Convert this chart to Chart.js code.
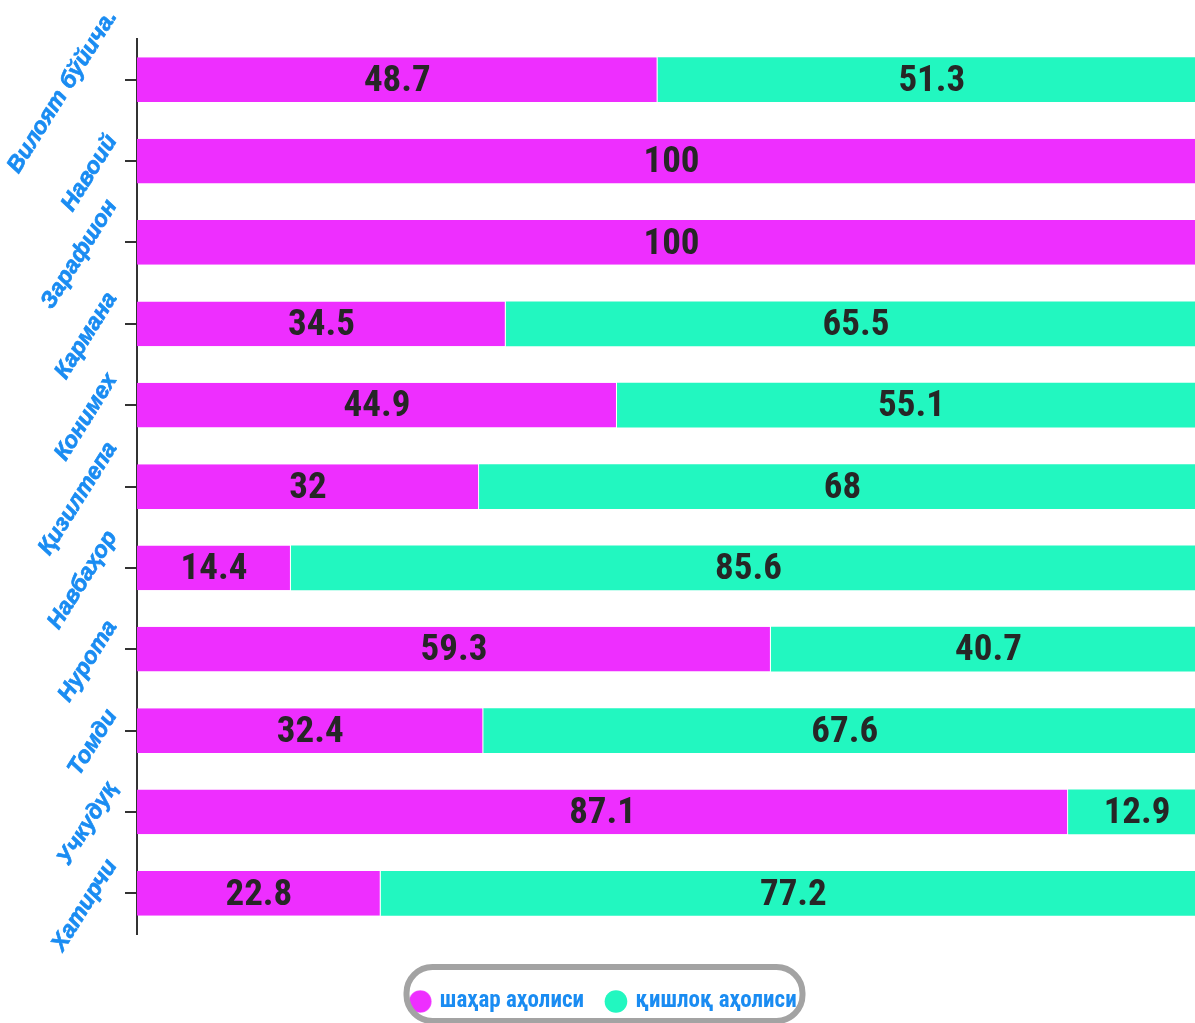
<!DOCTYPE html>
<html>
<head>
<meta charset="utf-8">
<script src="https://cdn.jsdelivr.net/npm/chart.js@4.4.0/dist/chart.umd.min.js"></script>
<style>
  html, body { margin: 0; padding: 0; background: #fff; overflow: hidden; }
  #clip { width: 1195px; height: 1023px; overflow: hidden; }
  /* plot runs a little past the right edge, as in the original */
  #wrap { width: 1206px; height: 1023px; position: relative; }
</style>
</head>
<body>
<div id="clip"><div id="wrap"><canvas id="chart"></canvas></div></div>
<script>
// districts of Navoiy region, urban vs rural population share (%)
const DISTRICTS = ["Вилоят бўйича.", "Навоий", "Зарафшон", "Кармана", "Конимех", "Қизилтепа",
                   "Навбаҳор", "Нурота", "Томди", "Учкудуқ", "Хатирчи"];
const URBAN = [48.7, 100, 100, 34.5, 44.9, 32, 14.4, 59.3, 32.4, 87.1, 22.8];
const RURAL = [51.3, 0, 0, 65.5, 55.1, 68, 85.6, 40.7, 67.6, 12.9, 77.2];
const SERIES_NAMES = ["шаҳар аҳолиси", "қишлоқ аҳолиси"];

const COL_URBAN = "#ee2eff";
const COL_RURAL = "#22f7c0";
const COL_LABEL = "#1a8cf2";

// value in the middle of each bar segment
const barValues = {
  id: "barValues",
  afterDatasetsDraw(chart) {
    const ctx = chart.ctx;
    ctx.save();
    ctx.font = "bold 37px 'Roboto Condensed', 'DejaVu Sans Condensed'";
    ctx.fillStyle = "#262626";
    ctx.textAlign = "center";
    ctx.textBaseline = "middle";
    chart.data.datasets.forEach((ds, di) => {
      chart.getDatasetMeta(di).data.forEach((bar, i) => {
        const v = ds.data[i];
        if (!v) return;
        const { x, base, y } = bar.getProps(["x", "base", "y"], true);
        ctx.fillText(String(v), (x + base) / 2, y + 2);
      });
    });
    ctx.restore();
  }
};

// slanted category labels: right edge lined up, centred a bit below the tick
const slantLabels = {
  id: "slantLabels",
  afterDraw(chart) {
    const ctx = chart.ctx;
    const sc = chart.scales.y;
    const ang = 58 * Math.PI / 180;
    ctx.save();
    ctx.font = "italic bold 23px Arial, 'Liberation Sans'";
    ctx.fillStyle = COL_LABEL;
    ctx.strokeStyle = COL_LABEL;
    ctx.lineWidth = 0.7;
    ctx.textAlign = "center";
    ctx.textBaseline = "middle";
    DISTRICTS.forEach((lbl, i) => {
      const ty = sc.getPixelForTick(i);
      const L = ctx.measureText(lbl).width;
      const cx = 120 - (L / 2) * Math.cos(ang) - 8;
      ctx.save();
      ctx.translate(cx, ty + 12);
      ctx.rotate(-ang);
      ctx.fillText(lbl, 0, 0);
      ctx.strokeText(lbl, 0, 0);
      ctx.restore();
    });
    ctx.restore();
  }
};

// rounded grey frame around the legend
const legendFrame = {
  id: "legendFrame",
  afterDraw(chart) {
    const lg = chart.legend;
    if (!lg) return;
    const ctx = chart.ctx;
    const w = 396, h = 54;
    const cx = (lg.left + lg.right) / 2;
    ctx.save();
    ctx.strokeStyle = "#a3a3a3";
    ctx.lineWidth = 6;
    ctx.beginPath();
    ctx.roundRect(cx - w / 2, 967, w, h, 26);
    ctx.stroke();
    ctx.restore();
  }
};

new Chart(document.getElementById("chart"), {
  type: "bar",
  data: {
    labels: DISTRICTS,
    datasets: [
      { label: SERIES_NAMES[0], data: URBAN, backgroundColor: COL_URBAN, borderColor: "#ffffff", borderWidth: { right: 1 }, borderSkipped: false, categoryPercentage: 1, barPercentage: 0.55 },
      { label: SERIES_NAMES[1], data: RURAL, backgroundColor: COL_RURAL, borderWidth: 0, categoryPercentage: 1, barPercentage: 0.55 },
    ],
  },
  options: {
    indexAxis: "y",
    responsive: true,
    maintainAspectRatio: false,
    animation: false,
    layout: { padding: { top: 39, right: 0, bottom: 0, left: 3 } },
    plugins: {
      tooltip: { enabled: false },
      legend: {
        position: "bottom",
        labels: {
          usePointStyle: true,
          pointStyle: "circle",
          boxWidth: 16,
          boxHeight: 16,
          padding: 24,
          color: COL_LABEL,
          font: { family: "'Roboto Condensed', 'DejaVu Sans Condensed'", size: 23, weight: "bold" },
        },
      },
    },
    scales: {
      x: {
        stacked: true, min: 0, max: 100,
        grid: { display: false },
        border: { display: false },
        ticks: { display: false },
        afterFit: (s) => { s.height = 32; },
      },
      y: {
        stacked: true,
        border: { display: true, color: "#333", width: 2 },
        grid: { display: true, offset: false, drawOnChartArea: false, drawTicks: true, tickLength: 12, tickColor: "#333", lineWidth: 2 },
        ticks: { display: false },
        afterFit: (s) => { s.width = 134; },
      },
    },
  },
  plugins: [barValues, slantLabels, legendFrame],
});
</script>
</body>
</html>
